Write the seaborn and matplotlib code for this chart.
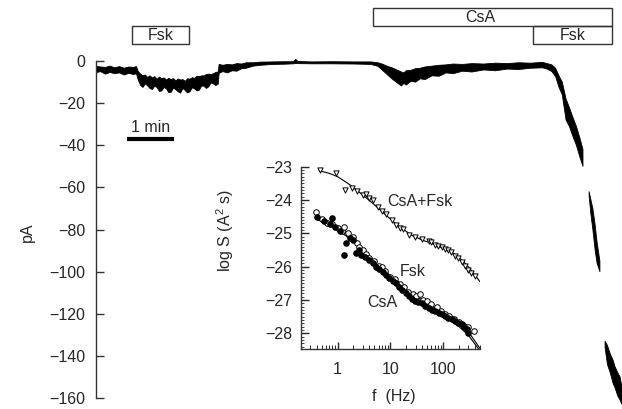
import numpy as np
import pandas as pd
import matplotlib
matplotlib.use('Agg')
import matplotlib.pyplot as plt
import seaborn as sns
from matplotlib.patches import Rectangle
from matplotlib.ticker import MultipleLocator, LogLocator, NullFormatter, FixedLocator

# ---- whole-cell current trace (min, pA): lower / upper edge of the noisy trace
nan = np.nan
t_min = [0.00, 0.10, 0.20, 0.30, 0.40, 0.50, 0.60, 0.70, 0.80, 0.86, 0.90, 0.95, 1.00, 1.05, 1.10,
         1.15, 1.20, 1.25, 1.30, 1.35, 1.40, 1.45, 1.50, 1.55, 1.60, 1.65, 1.70, 1.75, 1.80, 1.85,
         1.90, 1.95, 2.00, 2.05, 2.10, 2.15, 2.20, 2.25, 2.30, 2.35, 2.40, 2.45, 2.50, 2.55, 2.60,
         2.62, 2.70, 2.80, 2.90, 3.00, 3.10, 3.20, 3.35, 3.50, 3.75, 4.00, 4.20, 4.25, 4.30, 4.60,
         5.00, 5.50, 5.85, 6.00, 6.10, 6.20, 6.30, 6.40, 6.50, 6.55, 6.60, 6.70, 6.80, 6.90, 7.00,
         7.15, 7.30, 7.45, 7.60, 7.80, 8.00, 8.25, 8.50, 8.75, 9.00, 9.25, 9.50, 9.60, 9.70, 9.78,
         9.85, 9.92, 10.00, 10.07, 10.15, 10.22, 10.30, 10.36, 10.40,
         10.49, 10.53, 10.57, 10.62, 10.66, 10.72, 10.78,
         10.83, 10.88, 10.94, 11.00, 11.04, 11.10, 11.15, 11.19]
i_lo = [-5.5, -5.0, -6.2, -5.4, -6.0, -5.6, -6.6, -5.8, -6.4, -6.0, -9.0, -11.6, -12.5, -10.8, -11.8,
        -13.0, -13.5, -11.9, -12.6, -14.4, -14.2, -12.5, -13.2, -15.0, -14.8, -12.8, -13.6, -14.6, -15.2, -13.0,
        -14.0, -15.1, -14.6, -12.7, -13.2, -14.2, -13.8, -11.8, -12.0, -13.0, -12.2, -10.4, -10.8, -11.6, -11.0,
        -5.8, -5.0, -5.6, -4.6, -4.8, -3.6, -3.4, -2.4, -2.0, -1.6, -1.5, -1.3, -1.2, -1.2, -1.3,
        -1.3, -1.4, -1.6, -2.5, -4.5, -6.5, -8.5, -10.2, -11.8, -10.6, -11.4, -9.6, -10.0, -8.4, -8.8,
        -7.0, -7.2, -5.6, -6.0, -4.8, -5.2, -4.2, -4.6, -3.8, -4.0, -3.4, -3.2, -3.8, -5.0, -7.5,
        -12.5, -16.0, -28.0, -31.0, -36.0, -40.0, -46.0, -50.0, nan,
        -64, -73, -80, -90, -96, -100, nan,
        -136, -144, -148, -153, -155, -159, -161, -163]
i_hi = [-2.5, -2.8, -3.0, -2.4, -3.2, -2.6, -3.4, -2.8, -3.0, -2.6, -5.0, -6.2, -7.0, -6.6, -7.8,
        -7.0, -8.0, -7.4, -8.6, -7.6, -8.4, -8.0, -9.0, -8.2, -8.8, -8.3, -9.4, -8.5, -9.0, -8.8,
        -9.6, -8.4, -8.6, -7.9, -8.2, -7.2, -7.4, -7.0, -7.0, -6.4, -6.2, -6.4, -6.0, -5.4, -5.2,
        -1.6, -2.0, -1.6, -1.8, -1.2, -1.4, -0.8, -0.8, -0.5, -0.4, -0.3, -0.3, 0.8, -0.2, -0.4,
        -0.3, -0.4, -0.4, -0.8, -1.5, -2.5, -3.2, -4.2, -5.2, -5.6, -4.6, -4.4, -3.6, -3.4, -2.8,
        -2.4, -2.0, -1.8, -1.4, -1.6, -1.2, -1.4, -1.0, -1.2, -0.8, -1.0, -0.6, -1.2, -1.8, -3.5,
        -7.0, -10.0, -18.0, -22.0, -27.0, -31.0, -37.0, -42.0, nan,
        -62, -66, -70, -78, -86, -95, nan,
        -133, -135, -139, -142, -145, -148, -150, -155]

# drug application bars (min)
treat_labels = ['Fsk', 'CsA', 'Fsk']
treat_start = [0.77, 5.89, 9.30]
treat_end = [1.98, 10.98, 10.98]
treat_row = [1, 0, 1]

# ---- noise spectra (Hz, log S)
f_csafsk = [0.46, 0.92, 1.37, 1.88, 2.34, 2.99, 3.45, 3.98, 4.73, 5.96, 6.9, 8.2, 10.6, 13.0, 15.0,
            17.3, 22.4, 29.9, 39.8, 53, 60, 71, 80, 94, 110, 126, 140, 169, 190, 224, 260, 300, 340, 400]
s_csafsk = [-23.1, -23.19, -23.69, -23.65, -23.74, -23.84, -23.81, -23.93, -24.01, -24.21, -24.33,
            -24.41, -24.61, -24.76, -24.83, -24.86, -25.05, -25.1, -25.17, -25.22, -25.27, -25.35,
            -25.38, -25.42, -25.47, -25.5, -25.55, -25.68, -25.75, -25.85, -25.98, -26.1, -26.18, -26.29]

f_fsk = [0.39, 0.5, 0.62, 0.8, 1.0, 1.2, 1.35, 1.6, 1.8, 2.0, 2.3, 2.6, 3.0, 3.5, 4.0, 5.0, 6.0, 7.0,
         8.0, 10, 12, 15, 18, 22, 27, 30, 36, 42, 50, 60, 75, 90, 110, 130, 160, 200, 250, 300, 380]
s_fsk = [-24.35, -24.58, -24.7, -24.72, -24.85, -24.92, -24.8, -25.0, -25.15, -25.1, -25.3, -25.42,
         -25.5, -25.62, -25.75, -25.82, -25.98, -26.02, -26.12, -26.3, -26.38, -26.52, -26.62, -26.77,
         -26.82, -26.87, -26.82, -27.0, -27.02, -27.12, -27.22, -27.32, -27.42, -27.47, -27.57,
         -27.67, -27.77, -27.82, -27.92]

f_csa = [0.4, 0.55, 0.71, 0.77, 0.9, 1.09, 1.35, 1.45, 1.7, 1.94, 2.24, 2.5, 2.78, 3.3, 3.98, 4.6,
         5.3, 6.2, 7.1, 8.2, 9.5, 11, 12.6, 14.5, 16.8, 19.5, 22.4, 26, 29.9, 34, 39.8, 46, 53, 62,
         71, 82, 94, 110, 126, 145, 169, 195, 224, 250, 278, 300]
s_csa = [-24.52, -24.62, -24.73, -24.53, -24.8, -24.92, -25.64, -25.3, -25.15, -25.2, -25.6, -25.5,
         -25.65, -25.7, -25.8, -25.9, -26.0, -26.08, -26.15, -26.25, -26.34, -26.42, -26.49, -26.6,
         -26.69, -26.8, -26.89, -26.97, -27.04, -27.07, -27.09, -27.18, -27.24, -27.29, -27.34,
         -27.38, -27.43, -27.48, -27.53, -27.58, -27.63, -27.68, -27.73, -27.8, -27.88, -27.98]

# fitted curves
fit_f_csafsk = [0.45, 0.7, 1, 1.5, 2, 3, 4.5, 7, 10, 15, 25, 40, 60, 100, 150, 200, 300, 400, 500]
fit_s_csafsk = [-23.12, -23.2, -23.3, -23.48, -23.62, -23.85, -24.08, -24.35, -24.57, -24.8, -25.05,
                -25.2, -25.3, -25.45, -25.58, -25.72, -26.0, -26.25, -26.45]
fit_f_fsk = [0.4, 0.7, 1, 2, 4, 7, 10, 20, 50, 100, 200, 300, 500]
fit_s_fsk = [-24.5, -24.65, -24.8, -25.15, -25.68, -26.08, -26.3, -26.72, -27.08, -27.4, -27.72,
             -27.95, -28.45]
fit_f_csa = [0.4, 0.7, 1, 2, 4, 7, 10, 20, 50, 100, 200, 300, 470]
fit_s_csa = [-24.58, -24.72, -24.88, -25.25, -25.78, -26.15, -26.38, -26.78, -27.18, -27.47, -27.8,
             -28.05, -28.47]

sns.set_style('ticks')
plt.rcParams['font.family'] = ['Liberation Sans', 'DejaVu Sans']
plt.rcParams['mathtext.fontset'] = 'custom'
plt.rcParams['mathtext.rm'] = 'Liberation Sans'
FS = 11.5
plt.rcParams['font.size'] = FS

W, H = 622, 409
fig = plt.figure(figsize=(W / 100, H / 100), dpi=100)
fig.patch.set_facecolor('white')

def px(x, y):
    return x / W, 1 - y / H

# ---- main trace
ax = fig.add_axes([96 / W, 0, 1 - 96 / W, 1])
ax.set_facecolor('none')
ax.fill_between(t_min, i_lo, i_hi, color='black', edgecolor='black', linewidth=0.6)
ax.set_xlim(0, 11.19)
ax.set_ylim(-165.2, 29.0)
ax.set_yticks(range(-160, 1, 20))
ax.spines['left'].set_bounds(-160, 0)
for s in ['top', 'right', 'bottom']:
    ax.spines[s].set_visible(False)
ax.spines['left'].set_linewidth(1.0)
ax.spines['left'].set_color('#333333')
ax.tick_params(axis='y', direction='in', length=6, width=1.0, pad=7.5, labelsize=FS, color='#333333')
ax.set_xticks([])

# scale bar
ax.plot([0.66, 1.66], [-37, -37], color='black', lw=3, solid_capstyle='butt')
ax.text(1.16, -31.5, '1 min', ha='center', va='center', fontsize=FS)

# drug bars
row_y = [25.2, 16.65]
row_h = 8.6
for lab, s0, s1, r in zip(treat_labels, treat_start, treat_end, treat_row):
    y1 = row_y[r]
    ax.add_patch(Rectangle((s0, y1 - row_h), s1 - s0, row_h, fill=False,
                           edgecolor='#333333', lw=1.0, clip_on=False))
    xc = (s0 + s1) / 2 if lab == 'Fsk' else 8.17
    ax.text(xc, y1 - row_h / 2, lab, ha='center', va='center', fontsize=FS)

fig.text(*px(27, 232), 'pA', rotation=90, ha='center', va='center', fontsize=FS)

# ---- inset: noise spectra
ins = fig.add_axes([300.7 / W, (H - 349) / H, 179.3 / W, 182.3 / H])
ins.set_facecolor('none')
ins.set_xscale('log')

sns.lineplot(x=fit_f_csafsk, y=fit_s_csafsk, ax=ins, color='black', lw=0.8)
sns.lineplot(x=fit_f_fsk, y=fit_s_fsk, ax=ins, color='black', lw=0.8)
sns.lineplot(x=fit_f_csa, y=fit_s_csa, ax=ins, color='black', lw=0.8)
sns.scatterplot(x=f_csafsk, y=s_csafsk, ax=ins, marker='v', s=14, facecolor='white',
                edgecolor='black', linewidth=0.7, zorder=3)
sns.scatterplot(x=f_fsk, y=s_fsk, ax=ins, marker='o', s=16, facecolor='white',
                edgecolor='black', linewidth=0.7, zorder=3)
sns.scatterplot(x=f_csa, y=s_csa, ax=ins, marker='o', s=16, facecolor='black',
                edgecolor='black', linewidth=0.7, zorder=4)

ins.set_xlim(0.2, 500)
ins.set_ylim(-28.47, -23)
ins.set_yticks([-28, -27, -26, -25, -24, -23])
ins.yaxis.set_minor_locator(MultipleLocator(0.1))
ins.xaxis.set_major_locator(FixedLocator([1, 10, 100]))
ins.xaxis.set_minor_locator(LogLocator(base=10, subs=np.arange(2, 10), numticks=20))
ins.xaxis.set_minor_formatter(NullFormatter())
ins.set_xticklabels(['1', '10', '100'])
for s in ['top', 'right']:
    ins.spines[s].set_visible(False)
for s in ['left', 'bottom']:
    ins.spines[s].set_linewidth(1.0)
    ins.spines[s].set_color('#333333')
ins.tick_params(axis='y', which='major', direction='in', length=6, width=1.0, pad=6, labelsize=FS)
ins.tick_params(axis='y', which='minor', direction='in', length=2.5, width=0.6)
ins.tick_params(axis='x', which='major', direction='in', length=5, width=1.0, pad=9, labelsize=FS)
ins.tick_params(axis='x', which='minor', direction='in', length=3, width=0.7)
ins.set_xlabel('')
ins.set_ylabel('')

ins.text(36.8, -24.05, 'CsA+Fsk', ha='center', va='center', fontsize=FS)
ins.text(26, -26.14, 'Fsk', ha='center', va='center', fontsize=FS)
ins.text(7.06, -27.08, 'CsA', ha='center', va='center', fontsize=FS)

fig.text(*px(394, 397), 'f  (Hz)', ha='center', va='center', fontsize=FS)
fig.text(*px(225, 231), 'log S (A$^{2}$ s)', rotation=90, ha='center', va='center', fontsize=FS)

fig.savefig('out.png', dpi=100, facecolor='white')
